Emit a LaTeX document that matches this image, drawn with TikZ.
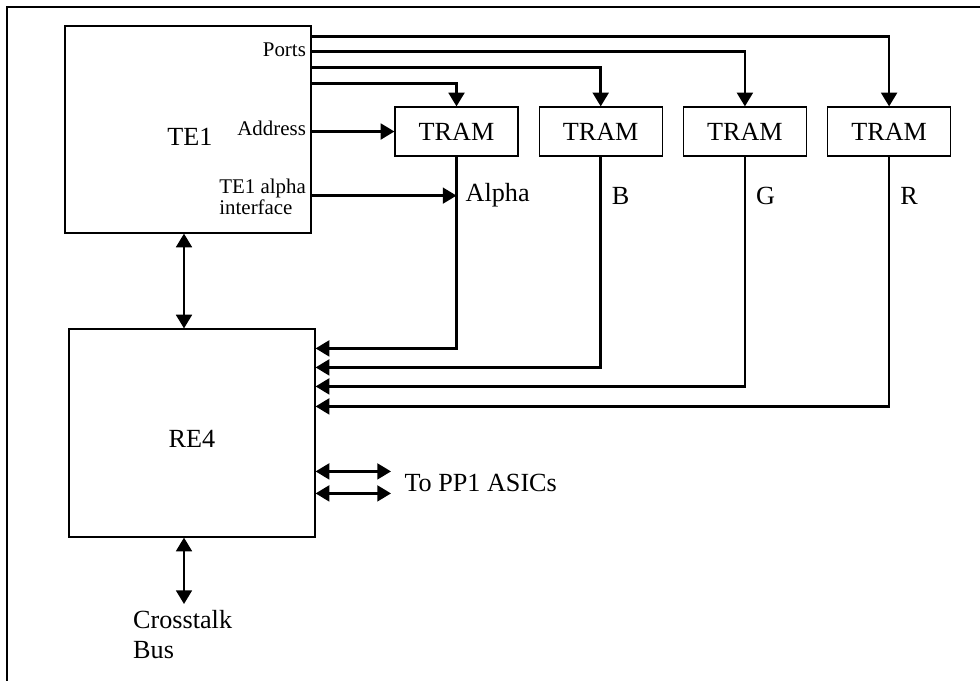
\documentclass[tikz,border=0pt]{standalone}
\usepackage{fontspec}
\setmainfont{Liberation Serif}
\usetikzlibrary{arrows.meta,positioning,calc}

\begin{document}
\begin{tikzpicture}[x=0.02cm,y=-0.02cm,node distance=4mm,
blk/.style={draw,line width=0.7pt,minimum width=4.92cm,minimum height=4.14cm},
tram/.style={draw,line width=0.7pt,minimum width=2.46cm,minimum height=0.98cm,font=\fontsize{14.9}{17}\selectfont},
big/.style={font=\fontsize{14.9}{17}\selectfont},
small/.style={font=\fontsize{11.9}{12}\selectfont,inner sep=1pt},
arr/.style={-{Triangle[length=7.8pt,width=9pt]},line width=1.4pt},
biarr/.style={{Triangle[length=7.8pt,width=9pt]}-{Triangle[length=7.8pt,width=9pt]},line width=1.4pt}]
\useasboundingbox (0,0) rectangle (980,681);
\draw[line width=1.4pt] (980,7)--(7,7)--(7,681);
% engines
\node[blk] (te1) at (188,129.5) {};
\node[blk,minimum height=4.16cm] (re4) at (192,433) {};
\node[big] (te1lbl) at (190,137) {TE1};
\node[big] (re4lbl) at (192,439) {RE4};
\node[small,anchor=east] (ports) at (308,50) {Ports};
\node[small,anchor=east] (addr) at (308,128) {Address};
\node[small,anchor=east,align=left] (aif) at (308,197) {TE1 alpha\\interface};
% texture memories
\node[tram] (t1) at (456.5,131.5) {TRAM};
\node[tram,right=of t1] (t2) {TRAM};
\node[tram,right=of t2] (t3) {TRAM};
\node[tram,right=of t3] (t4) {TRAM};
\node[big,anchor=west] (alpha) at ($(t1.south)+(3,39)$) {Alpha};
\foreach \t/\c in {t2/B,t3/G,t4/R}
  \node[big,anchor=west] (lbl\c) at ($(\t.south)+(5,39)$) {\c};
% port buses
\draw[arr] ($(te1.north east)+(0,58)$) -| (t1.north);
\draw[arr] ($(te1.north east)+(0,42)$) -| (t2.north);
\draw[arr] ($(te1.north east)+(0,26)$) -| (t3.north);
\draw[arr] ($(te1.north east)+(0,11)$) -| (t4.north);
\draw[arr] (te1.east |- t1.west) -- (t1.west);
\coordinate (ain) at ($(t1.south)+(0,39)$);
\draw[arr] (te1.east |- ain) -- (ain);
% colour channels into RE4
\draw[arr] (t1.south) |- ($(re4.north east)+(0,20)$);
\draw[arr] (t2.south) |- ($(re4.north east)+(0,39)$);
\draw[arr] (t3.south) |- ($(re4.north east)+(0,58)$);
\draw[arr] (t4.south) |- ($(re4.north east)+(0,78)$);
% external links
\coordinate (vx) at (184,0);
\node[big,anchor=west,inner xsep=7.5pt] (pp1) at (391,483) {To PP1 ASICs};
\node[big,align=left,anchor=north west] (xbus) at (127,604) {Crosstalk\\Bus};
\coordinate (q1) at ($(re4.north east)+(0,143)$);
\coordinate (q2) at ($(re4.north east)+(0,165)$);
\draw[biarr] (q1) -- (q1 -| pp1.west);
\draw[biarr] (q2) -- (q2 -| pp1.west);
\draw[biarr] (te1.south -| vx) -- (re4.north -| vx);
\draw[biarr] (re4.south -| vx) -- (xbus.north -| vx);
\end{tikzpicture}
\end{document}
